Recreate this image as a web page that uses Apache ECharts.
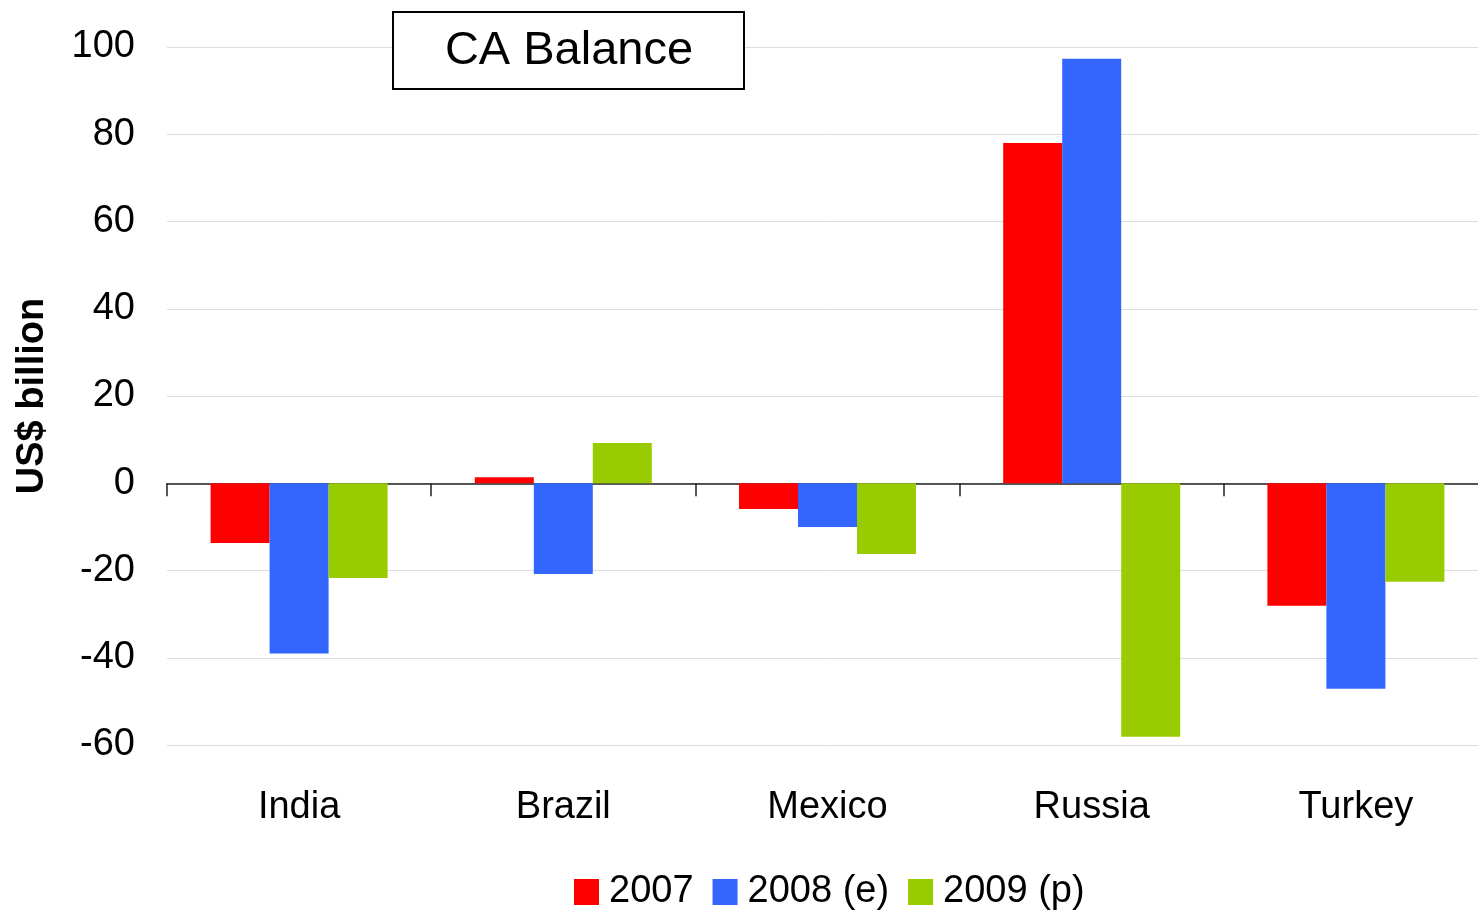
<!DOCTYPE html>
<html>
<head>
<meta charset="utf-8">
<script src="https://cdn.jsdelivr.net/npm/echarts@6/dist/echarts.min.js"></script>
<style>
html,body{margin:0;padding:0;background:#fff;overflow:hidden;}
#chart{width:1490px;height:910px;}
</style>
</head>
<body>
<div id="chart"></div>
<script>
const categories = ['India', 'Brazil', 'Mexico', 'Russia', 'Turkey'];
const seriesNames = ['2007', '2008 (e)', '2009 (p)'];
const values2007 = [-13.7, 1.4, -5.9, 78.0, -28.1];
const values2008 = [-39.0, -20.8, -10.0, 97.3, -47.1];
const values2009 = [-21.7, 9.2, -16.2, -58.1, -22.6];
const colors = ['#FF0000', '#3366FF', '#99CC00'];
const yMin = -60, yMax = 100, yStep = 20;

const FONT = '"Liberation Sans", Arial, sans-serif';
const chart = echarts.init(document.getElementById('chart'), null, {renderer: 'canvas'});
const allValues = [values2007, values2008, values2009];

chart.setOption({
  animation: false,
  backgroundColor: '#ffffff',
  textStyle: {fontFamily: FONT, color: '#000'},
  grid: {left: 167, top: 47, right: 2, bottom: 165, containLabel: false},
  graphic: [
    {type: 'rect', shape: {x: 393, y: 12, width: 351, height: 77},
     style: {fill: '#fff', stroke: '#000', lineWidth: 2}, z: 10},
    {type: 'text', x: 569, y: 51, z: 11,
     style: {text: 'CA Balance', fontSize: 47, fontFamily: FONT, fill: '#000',
             align: 'center', verticalAlign: 'middle'}}
  ],
  legend: {
    left: 574, top: 873, padding: 0,
    itemWidth: 25, itemHeight: 26, itemGap: 19,
    icon: 'rect',
    textStyle: {fontSize: 38, fontFamily: FONT, color: '#000', padding: [0, 0, 0, 5]},
    data: seriesNames
  },
  xAxis: [
    {
      type: 'category', data: categories,
      axisLine: {onZero: true, lineStyle: {color: '#222', width: 1.5}},
      axisTick: {show: true, length: 13, lineStyle: {color: '#222', width: 1.5}},
      axisLabel: {show: false},
      splitLine: {show: false}
    },
    {
      type: 'category', data: categories, position: 'bottom',
      axisLine: {show: false, onZero: false},
      axisTick: {show: false},
      axisLabel: {show: true, fontSize: 38, fontFamily: FONT, color: '#000', margin: 44},
      splitLine: {show: false}
    }
  ],
  yAxis: {
    type: 'value', min: yMin, max: yMax, interval: yStep,
    name: 'US$ billion', nameLocation: 'middle', nameRotate: 90, nameGap: 115,
    nameTextStyle: {fontSize: 38, fontWeight: 'bold', fontFamily: FONT, color: '#000'},
    axisLine: {show: false},
    axisTick: {show: false},
    axisLabel: {fontSize: 38, fontFamily: FONT, color: '#000', margin: 32, padding: [8, 0, 0, 0]},
    splitLine: {show: true, lineStyle: {color: '#dddddd', width: 1}}
  },
  series: seriesNames.map((name, i) => ({
    name: name, type: 'bar', data: allValues[i],
    xAxisIndex: 0,
    barGap: '0%', barCategoryGap: '33%',
    itemStyle: {color: colors[i]}
  }))
});
</script>
</body>
</html>
